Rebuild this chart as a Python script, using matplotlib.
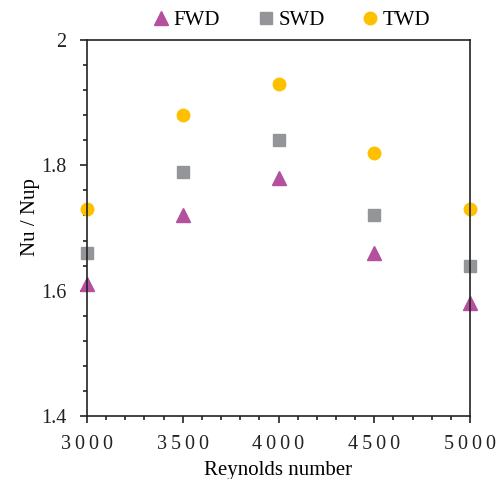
import matplotlib.pyplot as plt
from matplotlib.ticker import MultipleLocator

plt.rcParams['font.family'] = ['Liberation Serif', 'DejaVu Serif']

reynolds = [3000, 3500, 4000, 4500, 5000]
fwd = [1.61, 1.72, 1.78, 1.66, 1.58]
swd = [1.66, 1.79, 1.84, 1.72, 1.64]
twd = [1.73, 1.88, 1.93, 1.82, 1.73]

fig = plt.figure(figsize=(4.99, 4.79), dpi=100)
ax = fig.add_axes([87 / 499, 63 / 479, 383 / 499, 376 / 479])

ax.plot(reynolds, fwd, '^', color='#B5509E', markersize=10, label='FWD', clip_on=False)
ax.plot(reynolds, swd, 's', color='#939598', markersize=9, label='SWD', clip_on=False)
ax.plot(reynolds, twd, 'o', color='#FFC000', markersize=9, label='TWD', clip_on=False)

ax.set_xlim(3000, 5000)
ax.set_ylim(1.4, 2.0)
ax.xaxis.set_minor_locator(MultipleLocator(100))
ax.yaxis.set_minor_locator(MultipleLocator(0.04))
ax.set_xticks(reynolds)
# spaced digits, like the original's letter spacing
ax.set_xticklabels(['\u2009'.join(str(r)) for r in reynolds])
ax.set_yticks([1.4, 1.6, 1.8, 2.0])
ax.set_yticklabels(['1.4', '1.6', '1.8', '2'])

for s in ax.spines.values():
    s.set_linewidth(1.2)
    s.set_color('#222222')
ax.tick_params(which='both', direction='out', width=1.2, colors='#222222', labelsize=14.5)
ax.tick_params(which='major', length=5)
ax.tick_params(which='minor', length=3)
ax.tick_params(axis='x', pad=9)
ax.tick_params(axis='y', pad=10)

ax.set_xlabel('Reynolds number', fontsize=15, labelpad=5)
ax.set_ylabel('Nu / Nup', fontsize=15)
ax.yaxis.set_label_coords(-0.123, 0.529)

fig.legend(loc='upper center', bbox_to_anchor=(0.58, 1.017), ncol=3, frameon=False,
           fontsize=15, handletextpad=0.0, columnspacing=1.6, handlelength=1.2)

fig.savefig('out.png', dpi=100)
